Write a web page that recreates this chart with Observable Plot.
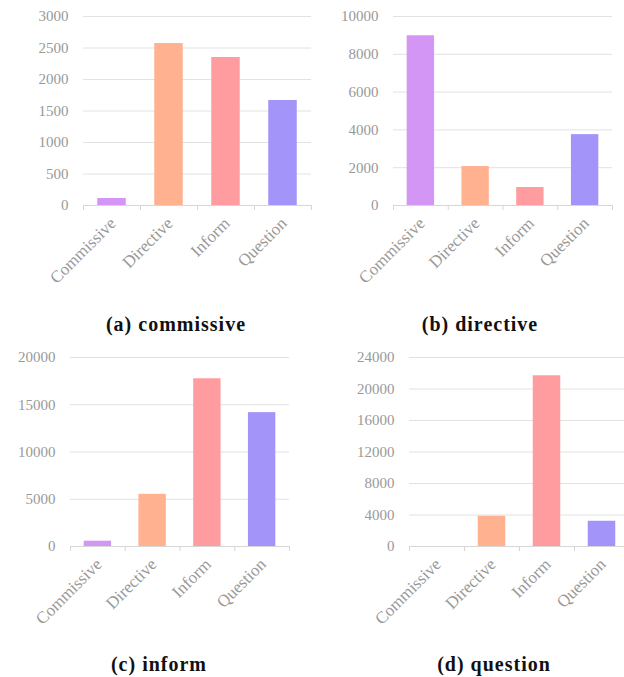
<!DOCTYPE html>
<html>
<head>
<meta charset="utf-8">
<script src="https://cdn.jsdelivr.net/npm/d3@7"></script>
<script src="https://cdn.jsdelivr.net/npm/@observablehq/plot@0.6"></script>
<style>
  html, body { margin: 0; padding: 0; background: #fff; }
  #root { position: relative; width: 624px; height: 677px; overflow: hidden; background: #fff; }
  .panel { position: absolute; }
  .caption { position: absolute; width: 240px; text-align: center; font-family: "Liberation Serif", serif;
             font-weight: bold; font-size: 20px; letter-spacing: 1px; line-height: 1; color: #111; white-space: nowrap; }
</style>
</head>
<body>
<div id="root"></div>
<script>
const categories = ["Commissive", "Directive", "Inform", "Question"];
const colors = ["#d396f4", "#ffb190", "#ff9ca0", "#a294f9"];

const commissiveCounts = [111, 2571, 2349, 1667];
const directiveCounts = [8980, 2060, 951, 3750];
const informCounts = [562, 5520, 17750, 14165];
const questionCounts = [0, 3838, 21680, 3206];

const commissiveTicks = [0, 500, 1000, 1500, 2000, 2500, 3000];
const directiveTicks = [0, 2000, 4000, 6000, 8000, 10000];
const informTicks = [0, 5000, 10000, 15000, 20000];
const questionTicks = [0, 4000, 8000, 12000, 16000, 20000, 24000];

const captions = ["(a) commissive", "(b) directive", "(c) inform", "(d) question"];

const panels = [
  {values: commissiveCounts, ticks: commissiveTicks, left: 0, top: 0, width: 320, ml: 83, mr: 9, mt: 16, mb: 95, cx: 176, cy: 331},
  {values: directiveCounts, ticks: directiveTicks, left: 320, top: 0, width: 304, ml: 73, mr: 12, mt: 16, mb: 95, cx: 480, cy: 331},
  {values: informCounts, ticks: informTicks, left: 0, top: 340, width: 320, ml: 70, mr: 31, mt: 17, mb: 94, cx: 159, cy: 671},
  {values: questionCounts, ticks: questionTicks, left: 320, top: 340, width: 310, ml: 89, mr: 1, mt: 17, mb: 94, cx: 494, cy: 671}
];

const root = document.getElementById("root");

panels.forEach((p, k) => {
  const data = categories.map((c, i) => ({i, category: c, value: p.values[i]}));
  const chart = Plot.plot({
    width: p.width,
    height: 300,
    marginLeft: p.ml,
    marginRight: p.mr,
    marginTop: p.mt,
    marginBottom: p.mb,
    style: {fontFamily: "Liberation Serif, serif", fontSize: "15px", color: "#999", background: "transparent", overflow: "visible"},
    x: {domain: [0, categories.length], axis: null},
    y: {domain: [0, d3.max(p.ticks)], axis: null},
    color: {domain: categories, range: colors},
    marks: [
      Plot.ruleY(p.ticks, {stroke: "#e2e2e2", strokeWidth: 1}),
      Plot.rectY(data, {x1: d => d.i + 0.25, x2: d => d.i + 0.75, y: "value", fill: "category"}),
      Plot.ruleY([0], {stroke: "#d6d6d6", strokeWidth: 1}),
      Plot.axisY({ticks: p.ticks, tickSize: 0, tickPadding: 15, fontSize: 15, fill: "#999", label: null, tickFormat: d => String(d)}),
      Plot.axisX({ticks: d3.range(categories.length + 1), tickSize: 5, stroke: "#d6d6d6", label: null, tickFormat: () => ""}),
      Plot.text(data, {x: d => d.i + 0.5, y: 0, text: "category", rotate: -45, textAnchor: "end", dy: 15, dx: 1, fontSize: 17, fill: "#999"})
    ]
  });
  chart.classList.add("panel");
  chart.style.left = p.left + "px";
  chart.style.top = p.top + "px";
  root.appendChild(chart);

  const cap = document.createElement("div");
  cap.className = "caption";
  cap.textContent = captions[k];
  cap.style.left = (p.cx - 120) + "px";
  cap.style.top = (p.cy - 17) + "px";
  root.appendChild(cap);
});
</script>
</body>
</html>
